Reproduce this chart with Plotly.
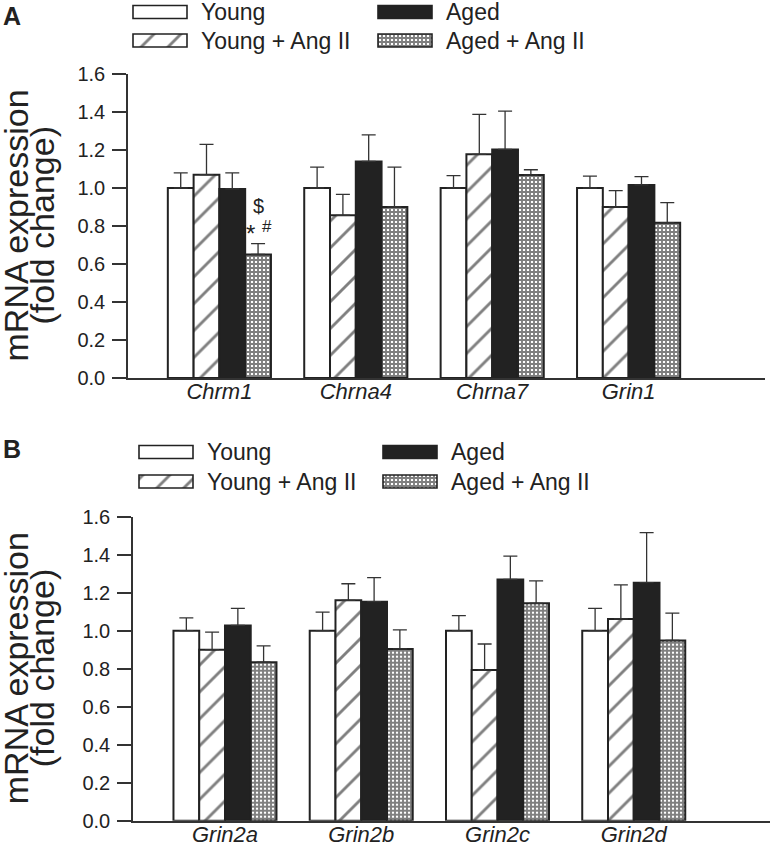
import plotly.graph_objects as go

# ---------------- data ----------------
genes_A = ["Chrm1", "Chrna4", "Chrna7", "Grin1"]
genes_B = ["Grin2a", "Grin2b", "Grin2c", "Grin2d"]
groups = ["Young", "Young + Ang II", "Aged", "Aged + Ang II"]

young_A = [1.00, 1.00, 1.00, 1.00]
young_A_err = [0.080, 0.110, 0.065, 0.063]
young_ang_A = [1.07, 0.856, 1.177, 0.90]
young_ang_A_err = [0.160, 0.110, 0.210, 0.086]
aged_A = [0.995, 1.140, 1.203, 1.016]
aged_A_err = [0.085, 0.140, 0.202, 0.044]
aged_ang_A = [0.650, 0.900, 1.068, 0.817]
aged_ang_A_err = [0.057, 0.210, 0.028, 0.106]

young_B = [1.00, 1.00, 1.00, 1.00]
young_B_err = [0.068, 0.098, 0.079, 0.118]
young_ang_B = [0.900, 1.160, 0.793, 1.062]
young_ang_B_err = [0.093, 0.087, 0.137, 0.179]
aged_B = [1.028, 1.153, 1.270, 1.253]
aged_B_err = [0.090, 0.126, 0.122, 0.263]
aged_ang_B = [0.834, 0.904, 1.144, 0.949]
aged_ang_B_err = [0.086, 0.100, 0.118, 0.144]

y_ticks = [0.0, 0.2, 0.4, 0.6, 0.8, 1.0, 1.2, 1.4, 1.6]

# ---------------- styles ----------------
W, H = 771, 846
FONT = "Liberation Sans, Arial, sans-serif"
DARK = "#222222"
OUT = dict(color=DARK, width=2)

styles = [
    dict(color="white", line=OUT),
    dict(color="white", line=OUT,
         pattern=dict(shape="/", fgcolor="#000000", bgcolor="white", size=19, solidity=0.15, fillmode="overlay")),
    dict(color=DARK, line=OUT),
    dict(color="white", line=OUT,
         pattern=dict(shape="+", fgcolor="#000000", bgcolor="white", size=4, solidity=0.72, fillmode="overlay")),
]

fig = go.Figure()

panelA = [(young_A, young_A_err), (young_ang_A, young_ang_A_err), (aged_A, aged_A_err), (aged_ang_A, aged_ang_A_err)]
panelB = [(young_B, young_B_err), (young_ang_B, young_ang_B_err), (aged_B, aged_B_err), (aged_ang_B, aged_ang_B_err)]

for (vals, errs), st, name in zip(panelA, styles, groups):
    fig.add_trace(go.Bar(x=genes_A, y=vals, name=name, marker=st, showlegend=False,
                         xaxis="x", yaxis="y",
                         error_y=dict(type="data", symmetric=False, array=errs, arrayminus=[0] * len(errs),
                                      color="#333333", thickness=1.3, width=7)))
for (vals, errs), st, name in zip(panelB, styles, groups):
    fig.add_trace(go.Bar(x=genes_B, y=vals, name=name, marker=st, showlegend=False,
                         xaxis="x2", yaxis="y2",
                         error_y=dict(type="data", symmetric=False, array=errs, arrayminus=[0] * len(errs),
                                      color="#333333", thickness=1.3, width=7)))

# ---------------- legend swatches (pixel overlay axis) ----------------
leg_cols_A = [133, 378]
leg_rows_A = [12, 40.5]
leg_cols_B = [139, 383]
leg_rows_B = [452, 481.5]
SW, SH = 54, 13
slot = [(0, 0), (1, 0), (0, 1), (1, 1)]  # (row, col) for groups order
for i, (st, name) in enumerate(zip(styles, groups)):
    r, c = slot[i]
    fig.add_trace(go.Bar(orientation="h", x=[SW, SW], base=[leg_cols_A[c], leg_cols_B[c]],
                         y=[leg_rows_A[r], leg_rows_B[r]], width=SH, offset=-SH / 2,
                         marker=dict(color=st["color"], line=dict(color=DARK, width=1.6),
                                     pattern=st.get("pattern")),
                         xaxis="x3", yaxis="y3", showlegend=False, hoverinfo="skip"))
    for cols, rows in ((leg_cols_A, leg_rows_A), (leg_cols_B, leg_rows_B)):
        fig.add_annotation(x=cols[c] + SW + 12, y=rows[r], xref="x3", yref="y3", text=name,
                           showarrow=False, xanchor="left", yanchor="middle",
                           font=dict(family=FONT, size=23, color=DARK))

# ---------------- axes ----------------
def yax(domain):
    return dict(domain=domain, range=[0, 1.6], tickvals=y_ticks, tickformat=".1f",
                showline=True, linecolor="#333333", linewidth=1.5, ticks="outside", ticklen=14,
                tickwidth=1.5, tickcolor="#333333", showgrid=False, zeroline=False, automargin=False,
                tickfont=dict(family=FONT, size=20, color=DARK), ticklabelstandoff=3)

def xax(domain, anchor, rng):
    return dict(domain=domain, anchor=anchor, type="category", range=rng, showline=True,
                linecolor="#333333", linewidth=1.5, ticks="", showgrid=False, zeroline=False,
                automargin=False, ticklabelstandoff=-7,
                tickfont=dict(family=FONT, size=22, color=DARK, style="italic"))

fig.update_layout(
    template="none",
    width=W, height=H, margin=dict(l=0, r=0, t=0, b=0, pad=0, autoexpand=False),
    paper_bgcolor="white", plot_bgcolor="rgba(0,0,0,0)",
    barmode="group", bargap=0.244, bargroupgap=0,
    xaxis=xax([128 / W, 765 / W], "y", [-0.67, 4.0]),
    yaxis=yax([1 - 378 / H, 1 - 74 / H]) | dict(anchor="x"),
    xaxis2=xax([133 / W, 770 / W], "y2", [-0.675, 4.0]),
    yaxis2=yax([1 - 820.7 / H, 1 - 516.7 / H]) | dict(anchor="x2"),
    xaxis3=dict(domain=[0, 1], range=[0, W], visible=False, anchor="y3", fixedrange=True, automargin=False),
    yaxis3=dict(domain=[0, 1], range=[H, 0], visible=False, anchor="x3", fixedrange=True, automargin=False),
    showlegend=False,
)

# ---------------- text ----------------
for label, yc in (("A", 16), ("B", 449)):
    fig.add_annotation(x=1, y=yc, xref="x3", yref="y3", text=f"<b>{label}</b>", showarrow=False,
                       xanchor="left", yanchor="middle", font=dict(family=FONT, size=25, color=DARK))
for yc in (226, 668.7):
    fig.add_annotation(x=15.5, y=yc, xref="x3", yref="y3", text="mRNA expression", textangle=-90,
                       showarrow=False, font=dict(family=FONT, size=34, color=DARK))
    fig.add_annotation(x=41.5, y=yc, xref="x3", yref="y3", text="(fold change)", textangle=-90,
                       showarrow=False, font=dict(family=FONT, size=34, color=DARK))

# significance marks over Chrm1 / Aged + Ang II bar
bar_w = (1 - 0.244) / 4
off4 = 1.5 * bar_w
fig.add_annotation(x=0 + off4 * 1.0, y=0.905, xref="x", yref="y", text="$", showarrow=False,
                   font=dict(family=FONT, size=20, color=DARK))
fig.add_annotation(x=0 + off4 - 0.055, y=0.76, xref="x", yref="y", text="*", showarrow=False,
                   font=dict(family=FONT, size=24, color=DARK))
fig.add_annotation(x=0 + off4 + 0.063, y=0.80, xref="x", yref="y", text="#", showarrow=False,
                   font=dict(family=FONT, size=17, color=DARK))

fig.write_html("out.html", config={"displayModeBar": False},
               post_script="document.body.style.margin='0';document.body.style.overflow='hidden';")
